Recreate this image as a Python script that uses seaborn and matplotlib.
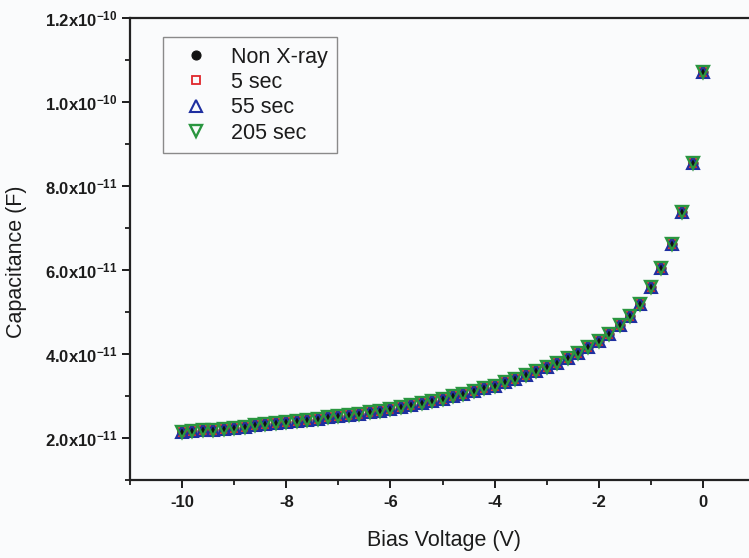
import matplotlib
matplotlib.use("Agg")
import matplotlib.pyplot as plt
import pandas as pd
import seaborn as sns
from matplotlib.ticker import FixedLocator, MultipleLocator

# Bias sweep (V)
bias_voltage = [-10.0, -9.8, -9.6, -9.4, -9.2, -9.0, -8.8, -8.6, -8.4, -8.2,
                -8.0, -7.8, -7.6, -7.4, -7.2, -7.0, -6.8, -6.6, -6.4, -6.2,
                -6.0, -5.8, -5.6, -5.4, -5.2, -5.0, -4.8, -4.6, -4.4, -4.2,
                -4.0, -3.8, -3.6, -3.4, -3.2, -3.0, -2.8, -2.6, -2.4, -2.2,
                -2.0, -1.8, -1.6, -1.4, -1.2, -1.0, -0.8, -0.6, -0.4, -0.2,
                0.0]

# Measured capacitance, in units of 1e-11 F
cap_non_xray = [2.14, 2.16, 2.18, 2.20, 2.22, 2.25, 2.27, 2.30, 2.33, 2.35,
                2.38, 2.40, 2.43, 2.46, 2.49, 2.52, 2.55, 2.58, 2.62, 2.65,
                2.69, 2.73, 2.78, 2.83, 2.88, 2.94, 2.99, 3.05, 3.11, 3.18,
                3.25, 3.33, 3.41, 3.50, 3.59, 3.68, 3.79, 3.90, 4.02, 4.16,
                4.30, 4.48, 4.68, 4.90, 5.20, 5.59, 6.04, 6.62, 7.38, 8.55,
                10.72]
cap_5_sec = list(cap_non_xray)
cap_55_sec = list(cap_non_xray)
cap_205_sec = list(cap_non_xray)

series_labels = ["Non X-ray", "5 sec", "55 sec", "205 sec"]
series_values = [cap_non_xray, cap_5_sec, cap_55_sec, cap_205_sec]

y_ticks = [2e-11, 4e-11, 6e-11, 8e-11, 1.0e-10, 1.2e-10]
y_tick_labels = ["2.0x10$^{-11}$", "4.0x10$^{-11}$", "6.0x10$^{-11}$",
                 "8.0x10$^{-11}$", "1.0x10$^{-10}$", "1.2x10$^{-10}$"]
x_ticks = [-10, -8, -6, -4, -2, 0]
x_tick_labels = ["-10", "-8", "-6", "-4", "-2", "0"]

sns.set_theme(style="ticks")
plt.rcParams.update({
    "font.family": ["Liberation Sans", "DejaVu Sans"],
    "mathtext.fontset": "custom",
    "mathtext.rm": "Liberation Sans:bold",
    "mathtext.it": "Liberation Sans:bold:italic",
    "mathtext.bf": "Liberation Sans:bold",
    "text.color": "#1c1c1c",
    "axes.labelcolor": "#1c1c1c",
    "xtick.color": "#1c1c1c",
    "ytick.color": "#1c1c1c",
})

BG = "#fafbfc"
fig = plt.figure(figsize=(7.49, 5.58), dpi=100, facecolor=BG)
ax = fig.add_axes([130 / 749, 78 / 558, 625 / 749, 462 / 558])
ax.set_facecolor(BG)

styles = [
    dict(marker="o", markersize=6.5, markerfacecolor="#121212",
         markeredgecolor="#121212", markeredgewidth=0.8, color="#121212"),
    dict(marker="s", markersize=6.0, markerfacecolor="none",
         markeredgecolor="#e0262b", markeredgewidth=1.3, color="#e0262b"),
    dict(marker="^", markersize=8.5, markerfacecolor="none",
         markeredgecolor="#1f2fa0", markeredgewidth=1.5, color="#1f2fa0"),
    dict(marker="v", markersize=8.5, markerfacecolor="none",
         markeredgecolor="#2a9640", markeredgewidth=1.7, color="#2a9640"),
]

for label, vals, st in zip(series_labels, series_values, styles):
    df = pd.DataFrame({"V": bias_voltage, "C": [v * 1e-11 for v in vals]})
    sns.lineplot(data=df, x="V", y="C", ax=ax, linestyle="none",
                 estimator=None, sort=False, label=label, **st)

ax.set_xlim(-11, 1)
ax.set_ylim(1e-11, 1.2e-10)
ax.xaxis.set_major_locator(FixedLocator(x_ticks))
ax.set_xticklabels(x_tick_labels, fontweight="bold")
ax.xaxis.set_minor_locator(MultipleLocator(2, offset=1))
ax.yaxis.set_major_locator(FixedLocator(y_ticks))
ax.set_yticklabels(y_tick_labels, fontweight="bold")
ax.yaxis.set_minor_locator(MultipleLocator(2e-11, offset=1e-11))

for side in ["left", "bottom", "top", "right"]:
    ax.spines[side].set_visible(True)
    ax.spines[side].set_linewidth(1.6)
    ax.spines[side].set_color("#222222")

ax.tick_params(which="major", direction="out", length=6, width=1.4,
               labelsize=12)
ax.tick_params(which="minor", direction="out", length=3.5, width=1.3)
ax.tick_params(axis="y", which="major", pad=3)
ax.tick_params(axis="x", which="major", pad=5)
ax.tick_params(top=False, right=False, which="both")

ax.set_xlabel("Bias Voltage (V)", fontsize=15.5)
ax.set_ylabel("Capacitance (F)", fontsize=15.5)
ax.xaxis.set_label_coords(0.502, -0.108)
ax.yaxis.set_label_coords(-0.165, 0.472)

leg = ax.legend(loc="upper left", bbox_to_anchor=(0.053, 0.959),
                borderaxespad=0, frameon=True, fancybox=False,
                edgecolor="#8a8a8a", facecolor=BG, framealpha=1,
                fontsize=15.5, handlelength=2.2, handletextpad=0.5,
                labelspacing=0.2, borderpad=0.45)
leg.get_frame().set_linewidth(1.0)

fig.savefig("out.png", dpi=100, facecolor=BG)
